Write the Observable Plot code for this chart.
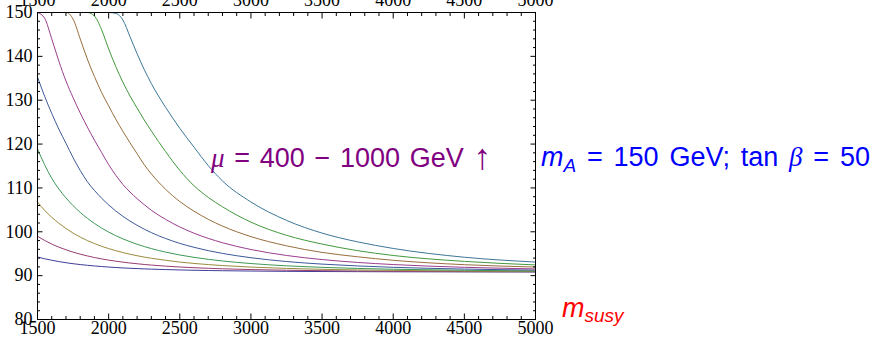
<!DOCTYPE html>
<html><head><meta charset="utf-8">
<script src="https://cdn.jsdelivr.net/npm/d3@7"></script>
<script src="https://cdn.jsdelivr.net/npm/@observablehq/plot@0.6"></script>
<style>
body{margin:0;background:#fff;}
#wrap{position:relative;width:875px;height:340px;overflow:hidden;}
#wrap svg.plotsvg text{font-family:"Liberation Serif","Times New Roman",Times,"DejaVu Serif",serif !important;font-size:18px;}
#ann{position:absolute;left:0;top:0;pointer-events:none;}
.sans{font-family:"Liberation Sans",Arial,Helvetica,sans-serif;font-size:27px;}
.ser{font-family:"Liberation Serif","Times New Roman",Times,"DejaVu Serif",serif;font-style:italic;}
</style></head><body>
<div id="wrap"></div>
<script>
// m_susy sample points (GeV)
const msusy = [1500,1550,1600,1650,1700,1750,1800,1850,1900,1950,2000,2050,2100,2150,2200,2250,2300,2400,2500,2600,2700,2800,3000,3250,3500,3750,4000,4500,5000];
// mu values of the curves (GeV)
const mu = [400,475,550,625,700,775,850,925,1000];
// m_h (GeV) read for each mu
const mh400  = [94.26,93.85,93.51,93.21,92.95,92.72,92.53,92.36,92.21,92.08,91.96,91.85,91.76,91.68,91.61,91.54,91.48,91.38,91.30,91.23,91.17,91.12,91.05,90.98,90.94,90.91,90.88,90.85,90.84];
const mh475  = [98.98,98.03,97.20,96.50,95.90,95.36,94.90,94.50,94.13,93.82,93.54,93.30,93.08,92.88,92.71,92.55,92.41,92.17,91.97,91.81,91.68,91.56,91.39,91.23,91.13,91.05,91.00,90.93,90.88];
const mh550  = [106.8,104.9,103.3,101.95,100.76,99.7,98.8,98.0,97.32,96.7,96.17,95.7,95.26,94.88,94.54,94.23,93.96,93.5,93.1,92.78,92.52,92.3,91.95,91.65,91.44,91.3,91.19,91.05,90.97];
const mh625  = [118.9,115.3,112.2,109.76,107.72,105.97,104.43,103.08,101.9,100.86,99.93,99.12,98.39,97.74,97.16,96.64,96.17,95.37,94.71,94.17,93.72,93.34,92.76,92.24,91.89,91.64,91.46,91.22,91.08];
const mh700  = [135.3,130.9,127.0,123.4,120.2,116.9,114.0,111.43,109.44,107.68,106.13,104.75,103.53,102.44,101.48,100.6,99.81,98.47,97.36,96.46,95.7,95.07,94.09,93.22,92.63,92.21,91.9,91.5,91.27];
const mh775  = [150,148.7,144.0,138.9,134.4,130.6,127.1,123.9,120.9,118.1,115.3,112.9,110.8,109.07,107.55,106.18,104.9,102.84,101.1,99.68,98.5,97.5,95.96,94.6,93.67,93.01,92.53,91.9,91.54];
const mh850  = [150,150,150,150,150,148.5,144.0,139.4,135.4,131.8,128.7,125.7,122.9,120.3,117.8,115.3,113.2,109.7,106.9,104.7,102.84,101.3,98.9,96.8,95.3,94.3,93.5,92.5,91.96];
const mh925  = [150,150,150,150,150,150,150,150,149.2,146.1,141.7,137.7,134.1,131.0,128.2,125.5,123.0,118.3,114.0,110.5,107.85,105.7,102.2,99.2,97.2,95.7,94.6,93.25,92.45];
const mh1000 = [150,150,150,150,150,150,150,150,150,150,150,149.8,148.3,144.5,140.6,137.0,133.8,128.4,123.6,119.3,115.1,111.6,106.8,102.6,99.7,97.7,96.2,94.2,93.1];
const series = [mh400, mh475, mh550, mh625, mh700, mh775, mh850, mh925, mh1000];
const colors = ["#3f3d99","#993d71","#998c3d","#3d9956","#3d5999","#993d8f","#996e3d","#42993d","#3d7799"];

const xTicks = [1500,2000,2500,3000,3500,4000,4500,5000];
const yTicks = [80,90,100,110,120,130,140,150];
const xMinor = d3.range(1500, 5001, 100).filter(v => v % 500 !== 0);
const yMinor = d3.range(80, 151, 2).filter(v => v % 10 !== 0);

const rows = [];
series.forEach((ys, i) => ys.forEach((v, j) => rows.push({m: msusy[j], mh: v, mu: mu[i]})));

const tickOpts = {label: null, fill: "none", stroke: "black", strokeWidth: 1};
const textOpts = {label: null, tickSize: 0, fill: "black", tickFormat: d => String(d)};

const chart = Plot.plot({
  width: 875, height: 340,
  marginLeft: 37, marginRight: 340, marginTop: 12, marginBottom: 21,
  className: "plotsvg",
  style: {background: "white", color: "black"},
  x: {domain: [1500, 5000]},
  y: {domain: [80, 150]},
  color: {type: "ordinal", domain: mu, range: colors},
  marks: [
    Plot.line(rows, {x: "m", y: "mh", z: "mu", stroke: "mu", strokeWidth: 1, curve: "monotone-x"}),
    Plot.frame({stroke: "black", strokeWidth: 1}),
    Plot.axisX(xTicks, {...tickOpts, anchor: "bottom", tickSize: -5.5}),
    Plot.axisX(xTicks, {...tickOpts, anchor: "top", tickSize: -5.5}),
    Plot.axisX(xMinor, {...tickOpts, anchor: "bottom", tickSize: -3}),
    Plot.axisX(xMinor, {...tickOpts, anchor: "top", tickSize: -3}),
    Plot.axisY(yTicks, {...tickOpts, anchor: "left", tickSize: -5.5}),
    Plot.axisY(yTicks, {...tickOpts, anchor: "right", tickSize: -5.5}),
    Plot.axisY(yMinor, {...tickOpts, anchor: "left", tickSize: -3}),
    Plot.axisY(yMinor, {...tickOpts, anchor: "right", tickSize: -3}),
    Plot.axisX(xTicks, {...textOpts, anchor: "bottom", tickPadding: 2}),
    Plot.axisX(xTicks, {...textOpts, anchor: "top", tickPadding: 7}),
    Plot.axisY(yTicks, {...textOpts, anchor: "left", tickPadding: 5})
  ]
});
chart.classList.add("plotsvg");
const wrap = document.getElementById("wrap");
wrap.appendChild(chart);

const NS = "http://www.w3.org/2000/svg";
const ann = document.createElementNS(NS, "svg");
ann.setAttribute("id", "ann");
ann.setAttribute("width", 875);
ann.setAttribute("height", 340);
ann.innerHTML = `
<g class="sans">
  <text x="211" y="167" fill="#800080" word-spacing="2.2"><tspan class="ser">μ</tspan> = 400 − 1000 GeV <tspan font-size="36" dy="2">↑</tspan></text>
  <text x="541" y="166" fill="#0000ff" word-spacing="3.3"><tspan font-style="italic">m</tspan><tspan font-style="italic" font-size="19" dy="6">A</tspan><tspan dy="-6"> = 150 GeV; tan </tspan><tspan class="ser">β</tspan> = 50</text>
  <text x="562" y="317" fill="#ff0000"><tspan font-style="italic">m</tspan><tspan font-style="italic" font-size="19" dy="5">susy</tspan></text>
</g>`;
wrap.appendChild(ann);
</script>
</body></html>
